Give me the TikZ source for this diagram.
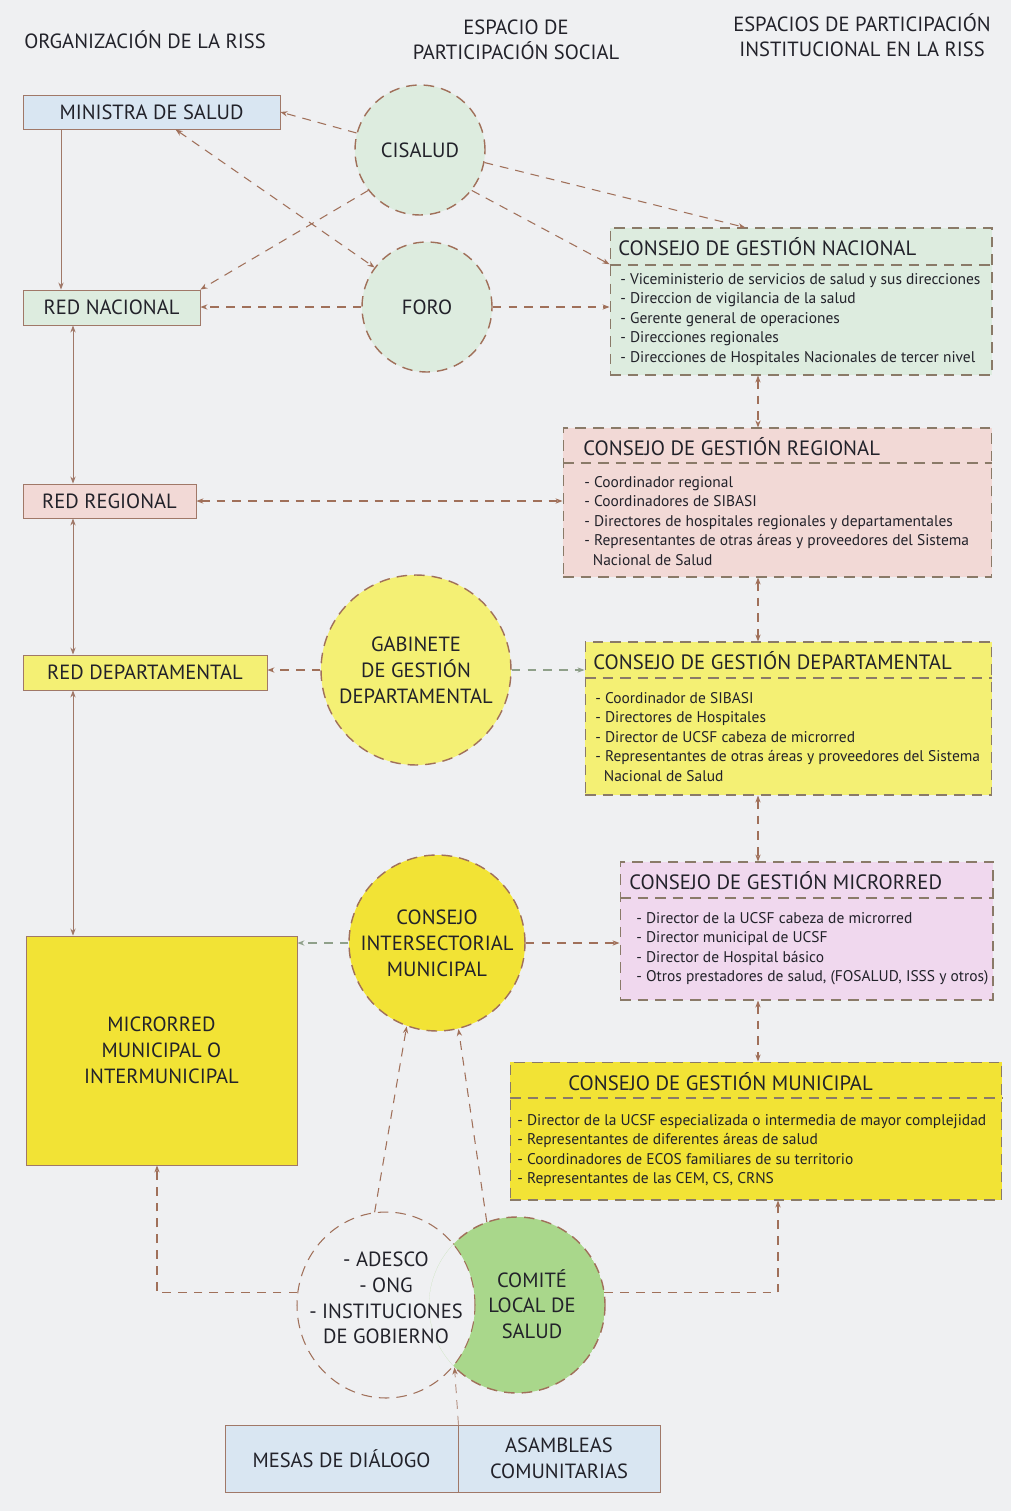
\documentclass[tikz,border=0pt]{standalone}
\usepackage{fontspec}
\setmainfont{PT Sans}
\usetikzlibrary{shapes.geometric,arrows.meta,positioning,calc}
\definecolor{bgpage}{HTML}{EFF0F2}
\definecolor{txtdark}{HTML}{22222A}
\definecolor{linebrown}{HTML}{A07868}
\definecolor{dashbrown}{HTML}{A0705A}
\definecolor{dashgreen}{HTML}{8FA08A}
\definecolor{boxgray}{HTML}{8A7A68}
\definecolor{paleblue}{HTML}{D9E6F2}
\definecolor{palegreen}{HTML}{DDECDF}
\definecolor{palepink}{HTML}{F2D9D6}
\definecolor{paleyellow}{HTML}{F4F074}
\definecolor{deepyellow}{HTML}{F2E335}
\definecolor{lavender}{HTML}{F0D8EE}
\definecolor{comitegreen}{HTML}{A9D78B}

\begin{document}
\begin{tikzpicture}[x=0.02cm,y=-0.02cm,text=txtdark]
  \tikzstyle{orgbox}=[rectangle,draw=linebrown,line width=0.5pt,inner sep=0pt,align=center,font=\fontsize{11.7}{14.7}\selectfont]
  \tikzstyle{espacio}=[circle,draw=dashbrown,dash pattern=on 6pt off 4pt,line width=0.8pt,inner sep=0pt,align=center,font=\fontsize{11.7}{14.7}\selectfont]
  \tikzstyle{consejo}=[rectangle,draw=boxgray,dash pattern=on 6pt off 4pt,line width=0.6pt,inner sep=0pt]
  \tikzstyle{ctitle}=[anchor=west,inner sep=0pt,font=\fontsize{11.8}{14}\selectfont]
  \tikzstyle{citems}=[anchor=north west,inner sep=0pt,align=left,font=\fontsize{8.8}{11.1}\selectfont]
  \tikzstyle{heading}=[align=center,inner sep=0pt,font=\fontsize{11.7}{14.2}\selectfont]
  \tikzstyle{link}=[dashbrown,dash pattern=on 5pt off 4pt,line width=0.6pt,-{Stealth[length=4pt,width=3pt]}]
  \tikzstyle{glink}=[link,dashgreen]
  \tikzstyle{solidlink}=[linebrown,line width=0.5pt,-{Stealth[length=4pt,width=3pt]}]
  \tikzstyle{twoway}=[{Stealth[length=4pt,width=3pt]}-{Stealth[length=4pt,width=3pt]}]

  \useasboundingbox (0,0) rectangle (1011,1511);
  \fill[bgpage] (0,0) rectangle (1011,1511);

  % column headings
  \node[heading] (hOrg) at (145,40) {ORGANIZACIÓN DE LA RISS};
  \node[heading] (hSoc) at (516,40) {ESPACIO DE\\PARTICIPACIÓN SOCIAL};
  \node[heading] (hIns) at (862,35) {ESPACIOS DE PARTICIPACIÓN\\INSTITUCIONAL EN LA RISS};

  % organizacion de la RISS
  \node[orgbox,fill=paleblue,minimum width=5.14cm,minimum height=0.68cm] (ministra) at (151.5,112) {MINISTRA DE SALUD};
  \node[orgbox,fill=palegreen,minimum width=3.54cm,minimum height=0.7cm] (rednac) at (111.5,307.5) {RED NACIONAL};
  \node[orgbox,fill=palepink,minimum width=3.46cm,minimum height=0.68cm] (redreg) at (109.5,501) {RED REGIONAL};
  \node[orgbox,fill=paleyellow,minimum width=4.88cm,minimum height=0.7cm] (reddep) at (145,672.5) {RED DEPARTAMENTAL};
  \node[orgbox,fill=deepyellow,minimum width=5.42cm,minimum height=4.58cm] (micro) at (161.5,1050.5) {MICRORRED\\MUNICIPAL O\\INTERMUNICIPAL};

  % espacios de participacion social
  \node[espacio,fill=palegreen,minimum size=2.6cm] (cisalud) at (420,150) {CISALUD};
  \node[espacio,fill=palegreen,minimum size=2.6cm] (foro) at (427,307) {FORO};
  \node[espacio,fill=paleyellow,minimum size=3.8cm] (gab) at (416,670) {GABINETE\\DE GESTIÓN\\DEPARTAMENTAL};
  \node[espacio,fill=deepyellow,minimum size=3.52cm] (inter) at (437,943) {CONSEJO\\INTERSECTORIAL\\MUNICIPAL};

  % comite local (media luna)
  \begin{scope}
    \clip (517,1305) circle[radius=88];
    \fill[comitegreen,even odd rule] (517,1305) circle[radius=88] (386,1305) ellipse[x radius=89,y radius=93];
  \end{scope}
  \begin{scope}[even odd rule]
    \clip (0,0) rectangle (1011,1511) (386,1305) ellipse[x radius=89,y radius=93];
    \draw[dashbrown,dash pattern=on 6pt off 4pt,line width=0.8pt] (517,1305) circle[radius=88];
  \end{scope}
  \node[ellipse,draw=dashbrown,dash pattern=on 6pt off 4pt,line width=0.6pt,minimum width=3.56cm,minimum height=3.72cm,inner sep=0pt] (adesco) at (386,1305) {};
  \node[heading,font=\fontsize{11.7}{14.7}\selectfont] (adescotxt) at (386,1298) {- ADESCO\\- ONG\\- INSTITUCIONES\\DE GOBIERNO};
  \node[circle,minimum size=3.52cm,inner sep=0pt] (comite) at (517,1305) {};
  \node[heading,font=\fontsize{11.7}{14.7}\selectfont] (comitetxt) at (532,1304) {COMITÉ\\LOCAL DE\\SALUD};

  \node[orgbox,fill=paleblue,minimum width=4.66cm,minimum height=1.34cm] (mesas) at (341.5,1458.5) {MESAS DE DIÁLOGO};
  \node[orgbox,fill=paleblue,minimum width=4.04cm,minimum height=1.34cm] (asamb) at (559,1458.5) {ASAMBLEAS\\COMUNITARIAS};

  % espacios institucionales
  \node[consejo,fill=palegreen,minimum width=7.64cm,minimum height=2.94cm] (cgnac) at (801,301.5) {};
  \draw[consejo] (610,265) -- (992,265);
  \node[ctitle] (cgnacT) at (618,247) {CONSEJO DE GESTIÓN NACIONAL};
  \node[citems] (cgnacL) at (620,273) {- Viceministerio de servicios de salud y sus direcciones\\- Direccion de vigilancia de la salud\\- Gerente general de operaciones\\- Direcciones regionales\\- Direcciones de Hospitales Nacionales de tercer nivel};

  \node[consejo,fill=palepink,minimum width=8.58cm,minimum height=2.98cm] (cgreg) at (777.5,502.5) {};
  \draw[consejo] (563,463) -- (992,463);
  \node[ctitle] (cgregT) at (583,447) {CONSEJO DE GESTIÓN REGIONAL};
  \node[citems] (cgregL) at (584,476) {- Coordinador regional\\- Coordinadores de SIBASI\\- Directores de hospitales regionales y departamentales\\- Representantes de otras áreas y proveedores del Sistema\\\hspace*{0.55em}Nacional de Salud};

  \node[consejo,fill=paleyellow,minimum width=8.14cm,minimum height=3.06cm] (cgdep) at (788.5,718.5) {};
  \draw[consejo] (585,678) -- (992,678);
  \node[ctitle] (cgdepT) at (593,661) {CONSEJO DE GESTIÓN DEPARTAMENTAL};
  \node[citems] (cgdepL) at (595,692) {- Coordinador de SIBASI\\- Directores de Hospitales\\- Director de UCSF cabeza de microrred\\- Representantes de otras áreas y proveedores del Sistema\\\hspace*{0.55em}Nacional de Salud};

  \node[consejo,fill=lavender,minimum width=7.46cm,minimum height=2.76cm] (cgmic) at (806.5,931) {};
  \draw[consejo] (620,898) -- (993,898);
  \node[ctitle] (cgmicT) at (629,881) {CONSEJO DE GESTIÓN MICRORRED};
  \node[citems] (cgmicL) at (636,912) {- Director de la UCSF cabeza de microrred\\- Director municipal de UCSF\\- Director de Hospital básico\\- Otros prestadores de salud, (FOSALUD, ISSS y otros)};

  \node[consejo,fill=deepyellow,minimum width=9.84cm,minimum height=2.76cm] (cgmun) at (756,1131) {};
  \draw[consejo] (510,1098) -- (1002,1098);
  \node[ctitle] (cgmunT) at (568,1082) {CONSEJO DE GESTIÓN MUNICIPAL};
  \node[citems] (cgmunL) at (517,1114) {- Director de la UCSF especializada o intermedia de mayor complejidad\\- Representantes de diferentes áreas de salud\\- Coordinadores de ECOS familiares de su territorio\\- Representantes de las CEM, CS, CRNS};

  % ejes de los conectores verticales
  \coordinate (lx) at (73,0);
  \coordinate (lxm) at (61,0);
  \coordinate (vx) at (758,0);
  \coordinate (vm) at (778,0);
  \coordinate (mx) at (157,0);

  % conectores de la RISS
  \draw[solidlink] (lxm |- ministra.south) -- (lxm |- rednac.north);
  \draw[solidlink,twoway] (lx |- rednac.south) -- (lx |- redreg.north);
  \draw[solidlink,twoway] (lx |- redreg.south) -- (lx |- reddep.north);
  \draw[solidlink,twoway] (lx |- reddep.south) -- (lx |- micro.north);

  % conectores de participacion
  \draw[link] (cisalud.165) -- (ministra.east);
  \draw[link] (cisalud.218) -- (rednac.north east);
  \draw[link,twoway] (ministra.-36) -- (foro.143);
  \draw[link] (cisalud.-11) -- (cgnac.127);
  \draw[link] (cisalud.-38) -- (cgnac.169);
  \draw[link] (foro.west) -- (foro.west -| rednac.east);
  \draw[link] (foro.east) -- (foro.east -| cgnac.west);
  \draw[link,twoway] (redreg.east) -- (redreg.east -| cgreg.west);
  \draw[link] (gab.west) -- (gab.west -| reddep.east);
  \draw[glink] (gab.east) -- (gab.east -| cgdep.west);
  \draw[glink] (inter.west) -- (inter.west -| micro.east);
  \draw[link] (inter.east) -- (inter.east -| cgmic.west);
  \draw[link] (adesco.97) -- (inter.-110);
  \draw[link] (comite.110) -- (inter.-76);
  \draw[link] (adesco.172) -| (mx |- micro.south);
  \draw[link] (comite.8) -| (vm |- cgmun.south);
  \draw[link,line width=0.4pt] (mesas.north east) -- (comite.225);

  % conectores entre consejos
  \draw[link,twoway] (vx |- cgnac.south) -- (vx |- cgreg.north);
  \draw[link,twoway] (vx |- cgreg.south) -- (vx |- cgdep.north);
  \draw[link,twoway] (vx |- cgdep.south) -- (vx |- cgmic.north);
  \draw[link,twoway] (vx |- cgmic.south) -- (vx |- cgmun.north);
\end{tikzpicture}
\end{document}
